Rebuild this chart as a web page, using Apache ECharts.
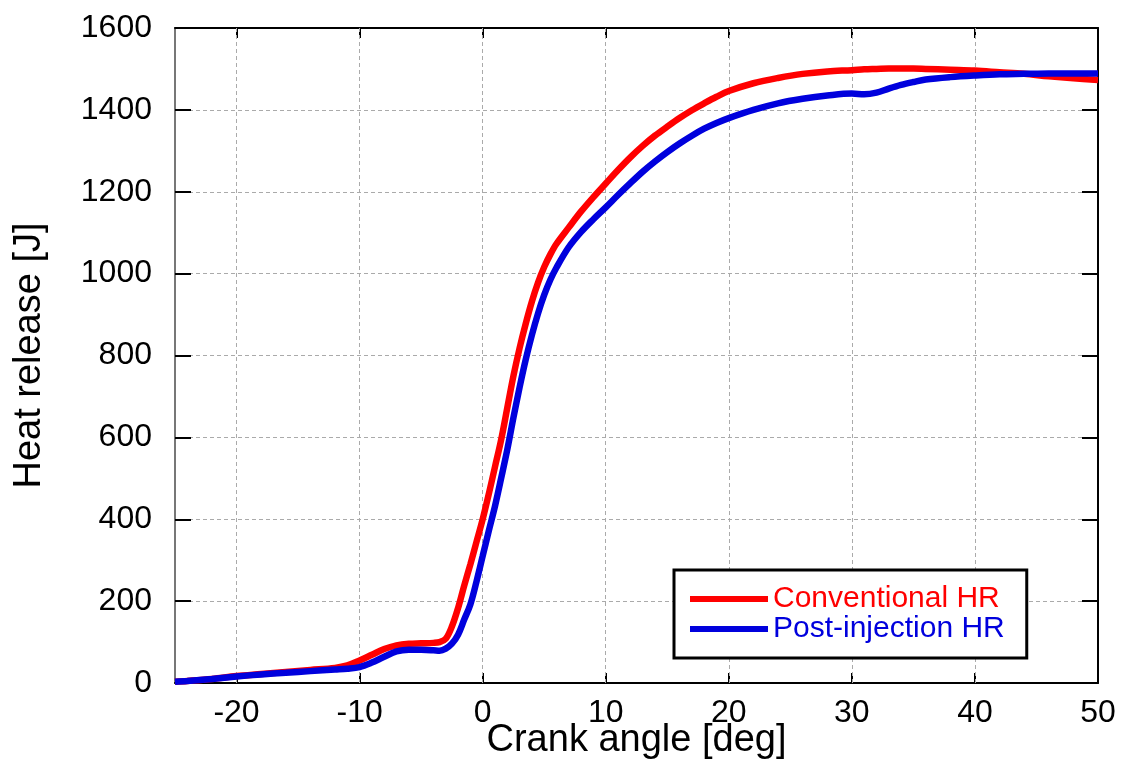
<!DOCTYPE html>
<html>
<head>
<meta charset="utf-8">
<title>Heat release vs crank angle</title>
<script src="https://cdn.jsdelivr.net/npm/echarts@6/dist/echarts.min.js"></script>
<style>
  html, body { margin: 0; padding: 0; background: #fff; }
  #chart { width: 1129px; height: 765px; }
</style>
</head>
<body>
<div id="chart"></div>
<script>
// Crank angle samples [deg]
const crankAngle = [-25,-24,-22,-20,-18,-16,-14,-12,-11,-10,-9,-8,-7,-6,-5,-4,
  -3.5,-3,-2.5,-2,-1.5,-1,-0.5,0,0.5,1,1.5,2,2.5,3,3.5,4,
  4.5,5,5.5,6,7,8,9,10,11,12,13,14,15,16,17,18,19,20,
  22,24,26,28,30,31,32,33,34,35,36,38,40,42,44,46,48,50];

// Cumulative heat release [J]
const conventionalHR = [3,5,10,17,22,27,32,37,43,55,69,83,92,96,97,98,
  100,108,138,183,238,290,345,400,462,528,594,672,750,818,878,932,
  978,1016,1047,1073,1113,1152,1187,1220,1253,1284,1312,1337,1359,1380,1399,1416,1432,1446,
  1465,1478,1488,1494,1497,1499,1500,1501,1501,1501,1500,1498,1496,1492,1488,1482,1477,1473];

const postInjectionHR = [3,5,10,16,21,25,29,33,35,39,50,64,77,81,81,80,
  79,84,96,118,155,192,248,310,372,432,500,570,648,722,790,850,
  903,948,985,1015,1065,1102,1133,1162,1192,1221,1249,1274,1297,1318,1337,1354,1368,1380,
  1400,1416,1427,1435,1440,1438,1442,1452,1461,1468,1474,1480,1484,1487,1488,1489,1489,1489];

// Axis ticks
const xTicks = [-20,-10,0,10,20,30,40,50];
const xGridLines = [-20,-10,0,10,20,30,40];

const seriesNames = ['Conventional HR', 'Post-injection HR'];
const seriesColors = ['#ff0000', '#0000dd'];

const FONT = '"Liberation Sans", Arial, Helvetica, sans-serif';
const pairs = (xs, ys) => xs.map((x, i) => [x, ys[i]]);

const chart = echarts.init(document.getElementById('chart'), null, { renderer: 'canvas' });

const frameX = (pos, showLabels) => ({
  type: 'value', position: pos, min: -25, max: 50,
  axisLine: { show: true, onZero: false, lineStyle: { color: '#000', width: 2 } },
  axisTick: { show: true, inside: true, length: 10, customValues: xTicks,
    lineStyle: { color: '#000', width: 2 } },
  axisLabel: showLabels
    ? { show: true, customValues: xTicks, fontSize: 32, margin: 14, color: '#000', fontFamily: FONT }
    : { show: false },
  splitLine: { show: false }
});

const frameY = (pos, showLabels) => ({
  type: 'value', position: pos, min: 0, max: 1600, interval: 200,
  axisLine: { show: true, onZero: false,
    lineStyle: { color: pos === 'left' ? '#777' : '#000', width: 2 } },
  axisTick: { show: true, inside: true, length: 16, lineStyle: { color: '#000', width: 2 } },
  axisLabel: showLabels
    ? { show: true, fontSize: 32, margin: 23, color: '#000', fontFamily: FONT,
        formatter: v => String(v) }
    : { show: false },
  splitLine: showLabels
    ? { show: true, lineStyle: { color: '#aaa', width: 1, type: [4, 3] } }
    : { show: false }
});

const xBottom = frameX('bottom', true);
xBottom.name = 'Crank angle [deg]';
xBottom.nameLocation = 'middle';
xBottom.nameGap = 39;
xBottom.nameMoveOverlap = false;
xBottom.nameTextStyle = { fontSize: 38, color: '#000', fontFamily: FONT };

const yLeft = frameY('left', true);
yLeft.name = 'Heat release [J]';
yLeft.nameLocation = 'middle';
yLeft.nameGap = 126;
yLeft.nameMoveOverlap = false;
yLeft.nameTextStyle = { fontSize: 38, color: '#000', fontFamily: FONT };

chart.setOption({
  animation: false,
  backgroundColor: '#fff',
  grid: { left: 175, right: 31, top: 28, bottom: 82, containLabel: false, outerBoundsMode: 'none' },
  xAxis: [xBottom, frameX('top', false)],
  yAxis: [yLeft, frameY('right', false)],
  legend: {
    orient: 'vertical',
    left: 674, top: 570,
    padding: [14, 22, 14, 16],
    itemWidth: 78, itemHeight: 6, itemGap: 0,
    icon: 'rect',
    backgroundColor: '#fff',
    borderColor: '#000', borderWidth: 3,
    textStyle: { fontSize: 30, lineHeight: 27, fontFamily: FONT },
    data: seriesNames.map((n, i) => ({ name: n, icon: 'rect',
      itemStyle: { color: seriesColors[i] },
      textStyle: { color: seriesColors[i] } }))
  },
  series: [
    {
      // vertical dashed grid lines
      type: 'line', name: '__grid', data: [], silent: true, z: 1,
      markLine: {
        z: 1, silent: true, symbol: ['none', 'none'], label: { show: false },
        lineStyle: { color: '#aaa', width: 1, type: [4, 3] },
        data: xGridLines.map(v => ({ xAxis: v }))
      }
    },
    {
      name: seriesNames[0], type: 'line', data: pairs(crankAngle, conventionalHR),
      showSymbol: false, symbol: 'none', smooth: 0.35,
      lineStyle: { color: seriesColors[0], width: 6.5 }, itemStyle: { color: seriesColors[0] }, z: 3
    },
    {
      name: seriesNames[1], type: 'line', data: pairs(crankAngle, postInjectionHR),
      showSymbol: false, symbol: 'none', smooth: 0.35,
      lineStyle: { color: seriesColors[1], width: 6.5 }, itemStyle: { color: seriesColors[1] }, z: 4
    }
  ]
});
</script>
</body>
</html>
